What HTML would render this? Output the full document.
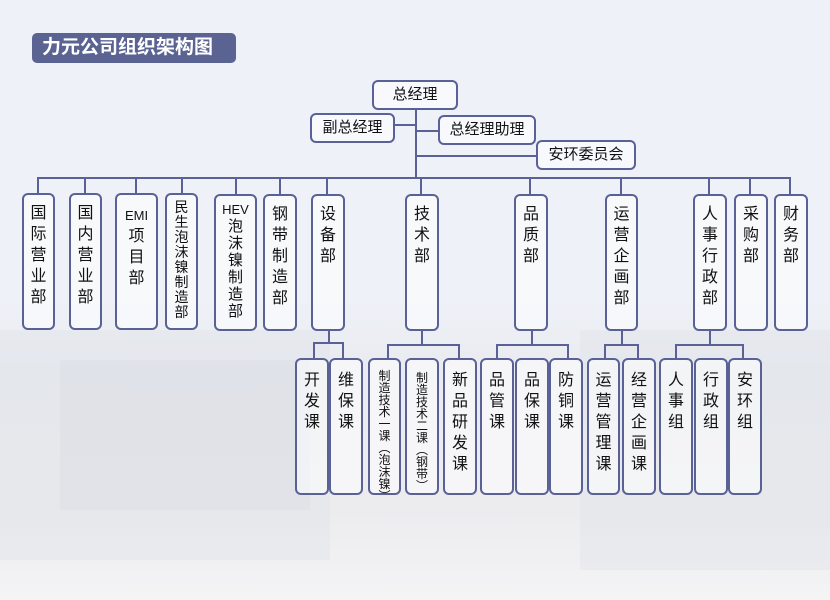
<!DOCTYPE html>
<html><head><meta charset="utf-8"><style>
body{margin:0;width:830px;height:600px;overflow:hidden;font-family:"Liberation Sans","Noto Sans CJK SC",sans-serif;}
#bg{position:absolute;left:0;top:0;width:830px;height:600px;background:linear-gradient(180deg,#eef1f8 0%,#eef1f7 50%,#e9ebf0 62%,#ececef 85%,#f4f4f5 100%);}
.b{position:absolute;border:2px solid #5a6197;border-radius:6px;background:rgba(255,255,255,0.55);box-sizing:border-box;color:#111;}
.h{font-size:15px;text-align:center;line-height:25px;}
.v{font-size:16px;text-align:center;line-height:21px;padding-top:8px;}
.s{font-size:12px;line-height:12px;padding-top:10px;}
.l{position:absolute;background:#5a6197;}
</style></head><body><div id="bg"></div>
<svg style="position:absolute;left:0;top:0" width="830" height="600">
<rect x="0" y="330" width="330" height="230" fill="#dcdee5" opacity="0.3"/>
<rect x="60" y="360" width="250" height="150" fill="#cfd3dc" opacity="0.2"/>
<rect x="580" y="330" width="250" height="240" fill="#dcdee4" opacity="0.3"/>
</svg>
<div style="position:absolute;left:32px;top:33px;width:204px;height:30px;background:#5b6393;border-radius:5px;color:#fff;font-weight:bold;font-size:19px;line-height:30px;padding-left:10px;box-sizing:border-box;">力元公司组织架构图</div>

<div class="l" style="left:415px;top:108px;width:2px;height:71px"></div>
<div class="l" style="left:393px;top:124px;width:23px;height:2px"></div>
<div class="l" style="left:416px;top:130px;width:23px;height:2px"></div>
<div class="l" style="left:416px;top:155px;width:121px;height:2px"></div>
<div class="l" style="left:37px;top:177px;width:754px;height:2px"></div>

<div class="b h" style="left:372px;top:80px;width:86px;height:30px">总经理</div>
<div class="b h" style="left:310px;top:113px;width:85px;height:30px">副总经理</div>
<div class="b h" style="left:438px;top:115px;width:98px;height:30px">总经理助理</div>
<div class="b h" style="left:536px;top:140px;width:100px;height:30px">安环委员会</div>

<div class="l" style="left:37px;top:178px;width:2px;height:16px"></div>
<div class="l" style="left:84px;top:178px;width:2px;height:16px"></div>
<div class="l" style="left:135px;top:178px;width:2px;height:16px"></div>
<div class="l" style="left:181px;top:178px;width:2px;height:16px"></div>
<div class="l" style="left:235px;top:178px;width:2px;height:16px"></div>
<div class="l" style="left:279px;top:178px;width:2px;height:16px"></div>
<div class="l" style="left:326px;top:178px;width:2px;height:16px"></div>
<div class="l" style="left:420px;top:178px;width:2px;height:16px"></div>
<div class="l" style="left:529px;top:178px;width:2px;height:16px"></div>
<div class="l" style="left:620px;top:178px;width:2px;height:16px"></div>
<div class="l" style="left:708px;top:178px;width:2px;height:16px"></div>
<div class="l" style="left:749px;top:178px;width:2px;height:16px"></div>
<div class="l" style="left:789px;top:178px;width:2px;height:16px"></div>

<div class="b v" style="left:22px;top:193px;width:33px;height:137px">国<br>际<br>营<br>业<br>部</div>
<div class="b v" style="left:69px;top:193px;width:33px;height:137px">国<br>内<br>营<br>业<br>部</div>
<div class="b v" style="left:115px;top:193px;width:43px;height:137px;padding-top:10px"><span style="font-size:13px">EMI</span><br>项<br>目<br>部</div>
<div class="b v" style="left:165px;top:193px;width:33px;height:137px;font-size:14px;line-height:15px;padding-top:5px">民<br>生<br>泡<br>沫<br>镍<br>制<br>造<br>部</div>
<div class="b v" style="left:214px;top:194px;width:43px;height:137px;font-size:15px;line-height:17px;padding-top:5px"><span style="font-size:13px">HEV</span><br>泡<br>沫<br>镍<br>制<br>造<br>部</div>
<div class="b v" style="left:263px;top:194px;width:34px;height:137px">钢<br>带<br>制<br>造<br>部</div>
<div class="b v" style="left:311px;top:194px;width:34px;height:137px">设<br>备<br>部</div>
<div class="b v" style="left:405px;top:194px;width:34px;height:137px">技<br>术<br>部</div>
<div class="b v" style="left:514px;top:194px;width:34px;height:137px">品<br>质<br>部</div>
<div class="b v" style="left:605px;top:194px;width:33px;height:137px">运<br>营<br>企<br>画<br>部</div>
<div class="b v" style="left:693px;top:194px;width:34px;height:137px">人<br>事<br>行<br>政<br>部</div>
<div class="b v" style="left:734px;top:194px;width:34px;height:137px">采<br>购<br>部</div>
<div class="b v" style="left:774px;top:194px;width:34px;height:137px">财<br>务<br>部</div>

<div class="l" style="left:328px;top:330px;width:2px;height:14px"></div>
<div class="l" style="left:313px;top:342px;width:31px;height:2px"></div>
<div class="l" style="left:421px;top:330px;width:2px;height:15px"></div>
<div class="l" style="left:387px;top:344px;width:73px;height:2px"></div>
<div class="l" style="left:531px;top:330px;width:2px;height:15px"></div>
<div class="l" style="left:496px;top:344px;width:73px;height:2px"></div>
<div class="l" style="left:621px;top:330px;width:2px;height:15px"></div>
<div class="l" style="left:604px;top:344px;width:35px;height:2px"></div>
<div class="l" style="left:709px;top:330px;width:2px;height:15px"></div>
<div class="l" style="left:675px;top:344px;width:69px;height:2px"></div>
<div class="l" style="left:313px;top:343px;width:2px;height:16px"></div>
<div class="l" style="left:342px;top:343px;width:2px;height:16px"></div>
<div class="l" style="left:387px;top:345px;width:2px;height:14px"></div>
<div class="l" style="left:458px;top:345px;width:2px;height:14px"></div>
<div class="l" style="left:496px;top:345px;width:2px;height:14px"></div>
<div class="l" style="left:567px;top:345px;width:2px;height:14px"></div>
<div class="l" style="left:604px;top:345px;width:2px;height:14px"></div>
<div class="l" style="left:637px;top:345px;width:2px;height:14px"></div>
<div class="l" style="left:675px;top:345px;width:2px;height:14px"></div>
<div class="l" style="left:742px;top:345px;width:2px;height:14px"></div>

<div class="b v" style="left:295px;top:358px;width:34px;height:137px;padding-top:10px">开<br>发<br>课</div>
<div class="b v" style="left:329px;top:358px;width:34px;height:137px;padding-top:10px">维<br>保<br>课</div>
<div class="b v s" style="left:368px;top:358px;width:33px;height:137px">制<br>造<br>技<br>术<br>一<br>课<br>︵<br>泡<br>沫<br>镍<br>︶</div>
<div class="b v s" style="left:405px;top:358px;width:34px;height:137px;padding-top:12px">制<br>造<br>技<br>术<br>二<br>课<br>︵<br>钢<br>带<br>︶</div>
<div class="b v" style="left:443px;top:358px;width:34px;height:137px;padding-top:10px">新<br>品<br>研<br>发<br>课</div>
<div class="b v" style="left:480px;top:358px;width:34px;height:137px;padding-top:10px">品<br>管<br>课</div>
<div class="b v" style="left:515px;top:358px;width:34px;height:137px;padding-top:10px">品<br>保<br>课</div>
<div class="b v" style="left:549px;top:358px;width:34px;height:137px;padding-top:10px">防<br>铜<br>课</div>
<div class="b v" style="left:587px;top:358px;width:33px;height:137px;padding-top:10px">运<br>营<br>管<br>理<br>课</div>
<div class="b v" style="left:622px;top:358px;width:34px;height:137px;padding-top:10px">经<br>营<br>企<br>画<br>课</div>
<div class="b v" style="left:659px;top:358px;width:34px;height:137px;padding-top:10px">人<br>事<br>组</div>
<div class="b v" style="left:694px;top:358px;width:34px;height:137px;padding-top:10px">行<br>政<br>组</div>
<div class="b v" style="left:728px;top:358px;width:34px;height:137px;padding-top:10px">安<br>环<br>组</div>
</body></html>
